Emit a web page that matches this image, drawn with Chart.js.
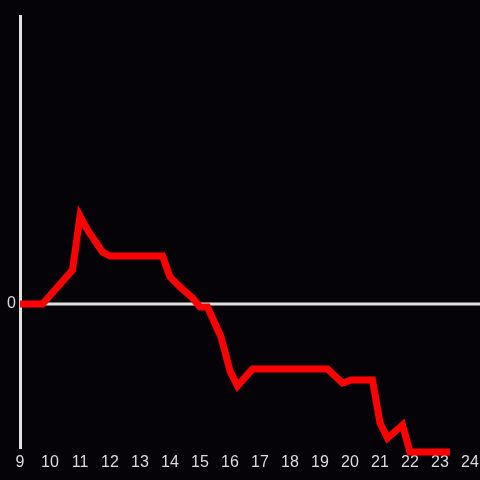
<!DOCTYPE html>
<html>
<head>
<meta charset="utf-8">
<script src="https://cdn.jsdelivr.net/npm/chart.js@4/dist/chart.umd.min.js"></script>
<style>
html,body{margin:0;padding:0;background:#050307;}
#wrap{width:480px;height:480px;}
</style>
</head>
<body>
<div id="wrap"><canvas id="c" width="480" height="480"></canvas></div>
<script>
const hours = [9, 9.75, 10.75, 11, 11.25, 11.75, 12, 13.75, 14, 14.33, 14.75, 15, 15.25, 15.7, 16, 16.25, 16.75, 19.25, 19.75, 20.05, 20.75, 21, 21.25, 21.75, 22, 23.33];
const values = [0, 0, 0.236, 0.611, 0.514, 0.361, 0.333, 0.333, 0.188, 0.118, 0.042, -0.021, -0.021, -0.229, -0.465, -0.569, -0.451, -0.451, -0.549, -0.528, -0.528, -0.826, -0.931, -0.840, -1.028, -1.028];
const xTicks = [9,10,11,12,13,14,15,16,17,18,19,20,21,22,23,24];
const yTicks = [0];

const points = hours.map((h,i)=>({x:h,y:values[i]}));

const zeroLine = {
  id:'zeroLine',
  beforeDatasetsDraw(chart){
    const y = chart.scales.y.getPixelForValue(0);
    const ctx = chart.ctx;
    ctx.save();
    ctx.strokeStyle = '#e0e0e0';
    ctx.lineWidth = 3;
    ctx.beginPath();
    ctx.moveTo(chart.chartArea.left, y);
    ctx.lineTo(chart.width, y);
    ctx.stroke();
    ctx.restore();
  }
};

new Chart(document.getElementById('c'), {
  type:'line',
  data:{datasets:[{data:points,borderColor:'#ff0000',borderWidth:7,pointRadius:0,tension:0,clip:false,fill:false}]},
  options:{
    responsive:false,animation:false,
    layout:{padding:{top:16,right:10,left:0,bottom:0}},
    plugins:{legend:{display:false},tooltip:{enabled:false}},
    scales:{
      x:{type:'linear',min:9,max:24,
        afterBuildTicks(s){s.ticks = xTicks.map(v=>({value:v}));},
        afterFit(s){s.height=32;s.paddingLeft=0;s.paddingRight=0;},
        grid:{display:false,drawTicks:false},
        border:{display:false},
        ticks:{color:'#dcdcdc',font:{family:'Liberation Sans',size:16},padding:5,maxRotation:0,autoSkip:false}
      },
      y:{type:'linear',min:-1,max:2,
        afterBuildTicks(s){s.ticks = yTicks.map(v=>({value:v}));},
        afterFit(s){s.width=20;s.paddingTop=0;s.paddingBottom=0;},
        grid:{display:false,drawTicks:false},
        border:{display:true,color:'#e0e0e0',width:3},
        ticks:{color:'#dcdcdc',font:{family:'Liberation Sans',size:16},padding:4}
      }
    }
  },
  plugins:[zeroLine]
});
</script>
</body>
</html>
